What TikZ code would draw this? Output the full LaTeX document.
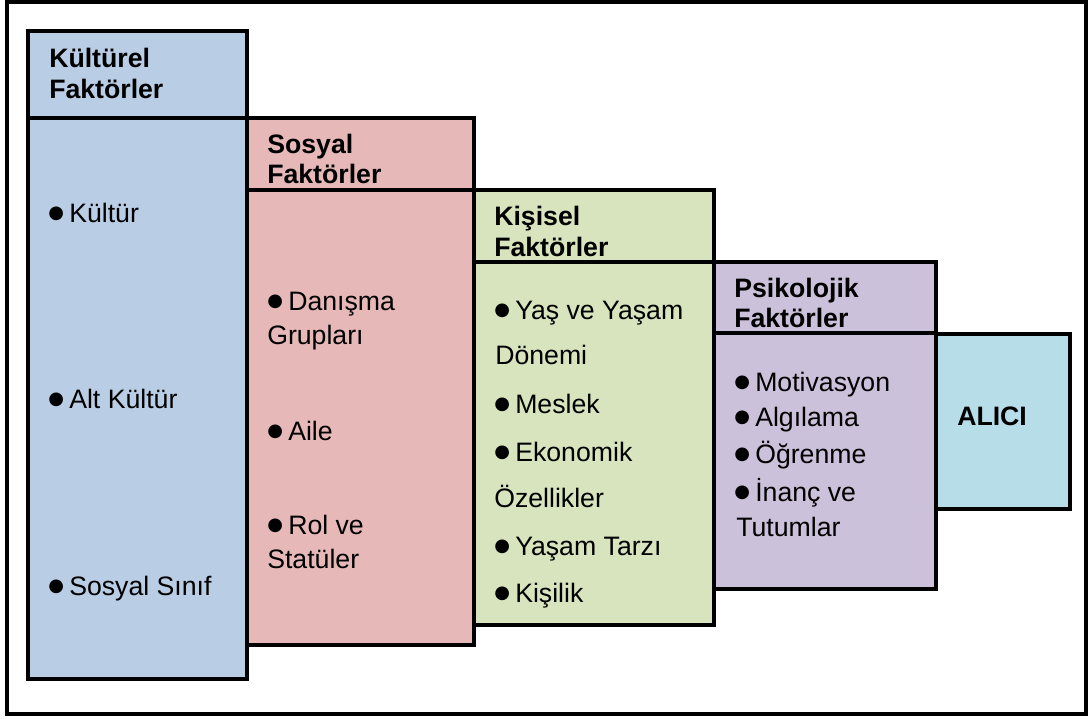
\documentclass[tikz,border=0pt]{standalone}
\usepackage{fontspec}
\setmainfont{Liberation Sans}
\newfontfamily\dotfont{DejaVu Sans}
\definecolor{kulturfill}{HTML}{B9CDE5}
\definecolor{sosyalfill}{HTML}{E6B9B8}
\definecolor{kisiselfill}{HTML}{D7E4BD}
\definecolor{psikofill}{HTML}{CCC1DA}
\definecolor{alicifill}{HTML}{B7DEE8}
% round bullet in a fixed-width box
\newcommand\itembul{\makebox[15pt][l]{\hspace{-0.6pt}\raisebox{2.6pt}{\dotfont\fontsize{13.5}{13.5}\selectfont ●}}}
\begin{document}
\begin{tikzpicture}[x=0.75pt,y=-0.75pt,
  boxline/.style={draw=black,line width=2.6pt,line join=miter},
  lbl/.style={anchor=base west,inner sep=0pt,font=\fontsize{20}{24}\selectfont},
  hdr/.style={anchor=base west,inner sep=0pt,font=\fontsize{20}{24}\selectfont\bfseries}]
\useasboundingbox (0,0) rectangle (1089,718);

% outer frame
\draw[line width=2.4pt] (7,2) rectangle (1086,714);

% column fills
\fill[kulturfill] (28,31) rectangle (247,679);
\fill[sosyalfill] (247,118) rectangle (474,645);
\fill[kisiselfill] (474,190) rectangle (714,625);
\fill[psikofill] (714,262) rectangle (936,589);
\fill[alicifill] (936,334) rectangle (1070,509);

% column outlines and header dividers
\draw[boxline] (28,31) rectangle (247,679);
\draw[boxline] (28,118) -- (247,118);
\draw[boxline] (247,118) rectangle (474,645);
\draw[boxline] (247,190) -- (474,190);
\draw[boxline] (474,190) rectangle (714,625);
\draw[boxline] (474,262) -- (714,262);
\draw[boxline] (714,262) rectangle (936,589);
\draw[boxline] (714,333) -- (936,333);
\draw[boxline] (936,334) rectangle (1070,509);

% headers
\node[hdr] (k1) at (49,67) {Kültürel};
\node[hdr] (k2) at (49,98) {Faktörler};
\node[hdr] (s1) at (267,153) {Sosyal};
\node[hdr] (s2) at (267,183) {Faktörler};
\node[hdr] (p1) at (494,225) {Kişisel};
\node[hdr] (p2) at (494,256) {Faktörler};
\node[hdr] (y1) at (734,297) {Psikolojik};
\node[hdr] (y2) at (734,327) {Faktörler};
\node[hdr] (alici) at (957,425) {ALICI};

% cultural factors
\node[lbl] (ka) at (49,222) {\itembul Kültür};
\node[lbl] (kb) at (49,408) {\itembul Alt Kültür};
\node[lbl] (kc) at (49,595) {\itembul Sosyal Sınıf};

% social factors
\node[lbl] (sa) at (268,310) {\itembul Danışma};
\node[lbl] (sb) at (267,344) {Grupları};
\node[lbl] (sc) at (268,440) {\itembul Aile};
\node[lbl] (sd) at (268,534) {\itembul Rol ve};
\node[lbl] (se) at (267,568) {Statüler};

% personal factors
\node[lbl] (pa) at (495,319) {\itembul Yaş ve Yaşam};
\node[lbl] (pb) at (495,364) {Dönemi};
\node[lbl] (pc) at (495,413) {\itembul Meslek};
\node[lbl] (pd) at (495,461) {\itembul Ekonomik};
\node[lbl] (pe) at (494,507) {Özellikler};
\node[lbl] (pf) at (495,555) {\itembul Yaşam Tarzı};
\node[lbl] (pg) at (495,602) {\itembul Kişilik};

% psychological factors
\node[lbl] (ya) at (735,391) {\itembul Motivasyon};
\node[lbl] (yb) at (735,426) {\itembul Algılama};
\node[lbl] (yc) at (735,463) {\itembul Öğrenme};
\node[lbl] (yd) at (735,501) {\itembul İnanç ve};
\node[lbl] (ye) at (736,536) {Tutumlar};
\end{tikzpicture}
\end{document}
